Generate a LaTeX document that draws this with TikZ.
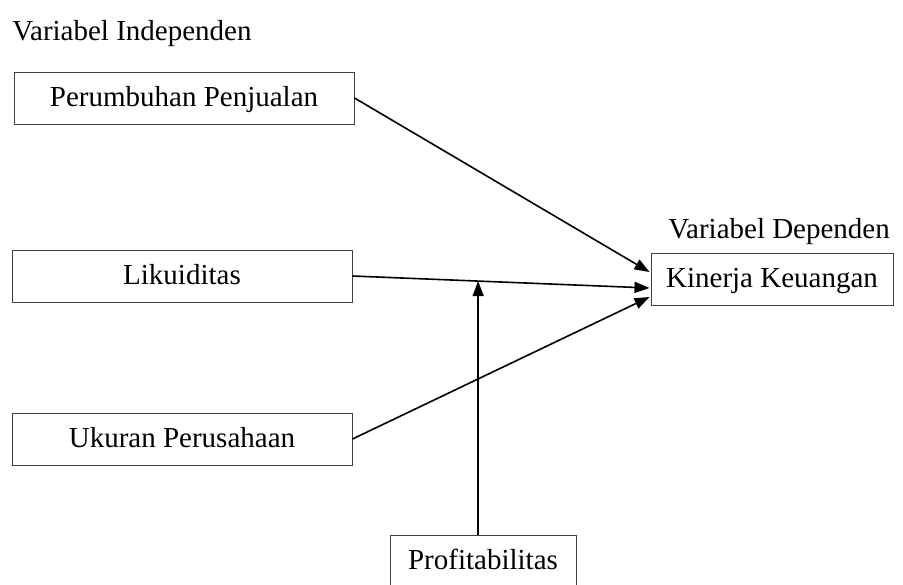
\documentclass[tikz,border=0pt]{standalone}
\usepackage{fontspec}
\setmainfont{Liberation Serif}
\usetikzlibrary{calc,arrows.meta}
\begin{document}
\begin{tikzpicture}[x=0.5pt,y=-0.5pt,
  font=\fontsize{14.5}{17}\selectfont,
  box/.style={draw=black!75,line width=0.5pt,rectangle,inner sep=0pt,minimum height=26pt,text height=10pt,text depth=2pt},
  lbl/.style={inner sep=0pt,anchor=west},
  arr/.style={line width=0.8pt,-{Triangle[length=7.5pt,width=5.5pt]}}]
\useasboundingbox (0,0) rectangle (903,584);
\node[lbl] (vi) at (12,34) {Variabel Independen};
\node[lbl] (vd) at (668,232) {Variabel Dependen};
\node[box,minimum width=170pt] (pp) at (184,98) {Perumbuhan Penjualan};
\node[box,minimum width=170pt] (lik) at (182,276) {Likuiditas};
\node[box,minimum width=170pt] (uk) at (182,439) {Ukuran Perusahaan};
\node[box,minimum width=121pt] (kin) at (772,279) {Kinerja Keuangan};
\node[box,minimum width=93pt] (prof) at (483,561) {Profitabilitas};
\coordinate (k1) at ($(kin.west)+(-1,-7)$);
\coordinate (k2) at ($(kin.west)+(-1,9)$);
\coordinate (k3) at ($(kin.west)+(-1,18)$);
\draw[arr] (pp.east) -- (k1);
\draw[arr] (lik.east) -- (k2);
\draw[arr] (uk.east) -- (k3);
\coordinate (m) at ($(lik.east)!0.423!(k2)$);
\draw[arr] (prof.north -| m) -- (m);
\end{tikzpicture}
\end{document}
